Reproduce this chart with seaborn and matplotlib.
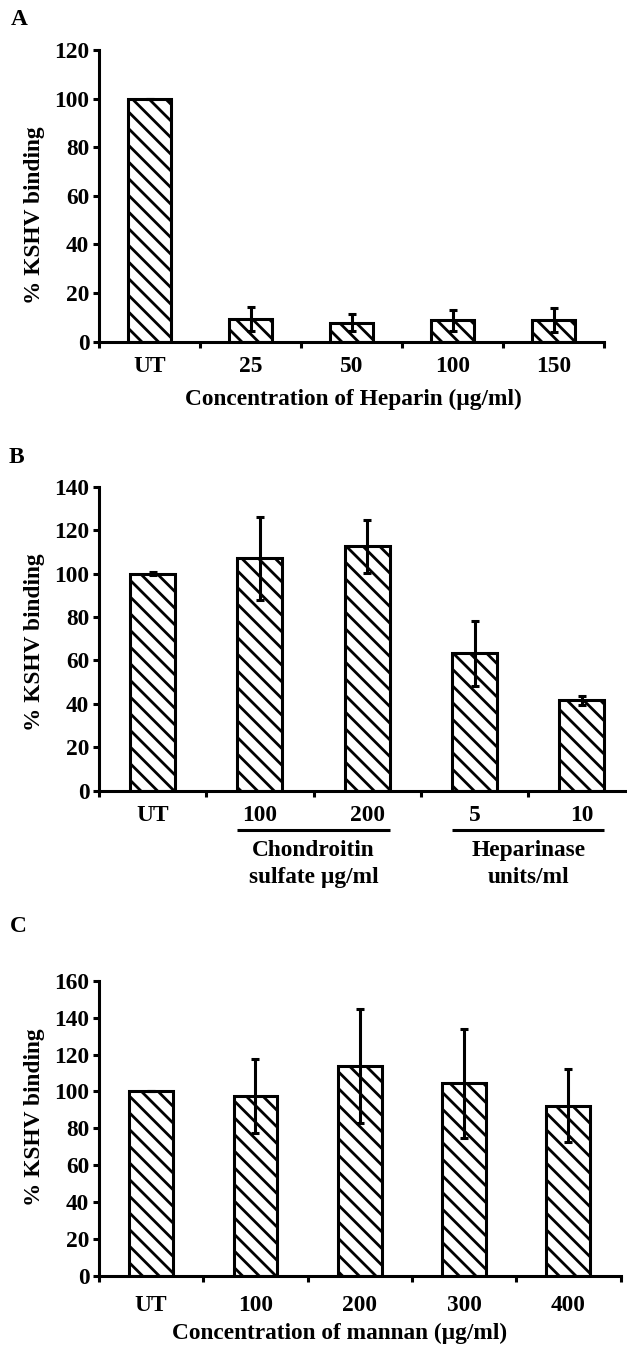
import numpy as np
import pandas as pd
import matplotlib
matplotlib.use("Agg")
import matplotlib.pyplot as plt
import seaborn as sns
from matplotlib.transforms import blended_transform_factory

# ---------------- data ----------------
y_label = "% KSHV binding"
panel_letters = ["A", "B", "C"]

a_categories = ["UT", "25", "50", "100", "150"]
a_values = [100, 9.3, 7.8, 8.8, 8.8]
a_errors = [0, 5.1, 3.5, 4.4, 5.0]
a_xlabel = "Concentration of Heparin (µg/ml)"

b_categories = ["UT", "100", "200", "5", "10"]
b_values = [100, 107, 112.5, 63.2, 41.6]
b_errors = [0.5, 19, 12.2, 15, 2]
b_group_labels = ["Chondroitin\nsulfate µg/ml", "Heparinase\nunits/ml"]
b_group_spans = [(1, 2), (3, 4)]

c_categories = ["UT", "100", "200", "300", "400"]
c_values = [100, 97.5, 113.8, 104.4, 92.3]
c_errors = [0, 19.9, 30.8, 29.4, 19.8]
c_xlabel = "Concentration of mannan (µg/ml)"

# ---------------- style ----------------
sns.set_style("ticks")
plt.rcParams["font.family"] = ["Liberation Serif", "DejaVu Serif"]
plt.rcParams["font.weight"] = "bold"
plt.rcParams["hatch.linewidth"] = 2.0
plt.rcParams["hatch.color"] = "black"
for key in ("text.color", "axes.labelcolor", "xtick.color", "ytick.color",
            "axes.edgecolor"):
    plt.rcParams[key] = "black"

FS = 16.8
LW = 2.2
W, H = 627, 1345

fig = plt.figure(figsize=(W / 100, H / 100), dpi=100)


def px_axes(left, right, top, bottom):
    return [left / W, 1 - bottom / H, (right - left) / W, (bottom - top) / H]


def draw(ax, cats, vals, errs, width, ymax, tick_pad):
    n = len(cats)
    df = pd.DataFrame({"cat": cats, "val": vals})
    sns.barplot(data=df, x="cat", y="val", order=cats, ax=ax, color="white",
                edgecolor="black", linewidth=LW, width=width, saturation=1,
                errorbar=None, hatch="\\\\")
    ax.errorbar(np.arange(n), vals, yerr=errs, fmt="none", ecolor="black",
                elinewidth=LW, capsize=3.2, capthick=LW, zorder=3)
    ax.set_xlim(-0.5, n - 0.5)
    ax.set_ylim(0, ymax)
    ax.set_yticks(np.arange(0, ymax + 1, 20))
    ax.set_xticks(np.arange(n))
    ax.set_xticklabels(cats, fontsize=FS, fontweight="bold")
    ax.set_xticks(np.arange(-0.5, n, 1.0), minor=True)
    ax.tick_params(axis="x", which="major", length=0, pad=tick_pad)
    ax.tick_params(axis="x", which="minor", length=4, width=LW, direction="out")
    ax.tick_params(axis="y", length=4, width=LW, direction="out", pad=3,
                   labelsize=FS)
    for lab in ax.get_yticklabels():
        lab.set_fontweight("bold")
    sns.despine(ax=ax)
    for s in ("left", "bottom"):
        ax.spines[s].set_linewidth(LW)
        ax.spines[s].set_color("black")
    ax.set_xlabel("")
    ax.set_ylabel(y_label, fontsize=FS, fontweight="bold")


# Panel A
axA = fig.add_axes(px_axes(99, 604, 50, 341.7))
draw(axA, a_categories, a_values, a_errors, 0.435, 120, 10)
axA.set_xlabel(a_xlabel, fontsize=FS, fontweight="bold")
axA.xaxis.set_label_coords(0.503, -0.161)
axA.yaxis.set_label_coords(-0.107, 0.434)

# Panel B
axB = fig.add_axes(px_axes(99, 635.5, 486.7, 790.7))
draw(axB, b_categories, b_values, b_errors, 0.42, 140, 10.5)
axB.yaxis.set_label_coords(-0.1007, 0.49)
trB = blended_transform_factory(axB.transData, axB.transAxes)
bw = 0.42
for label, (i0, i1) in zip(b_group_labels, b_group_spans):
    axB.plot([i0 - bw / 2, i1 + bw / 2], [-0.129, -0.129], transform=trB,
             clip_on=False, color="black", lw=LW, solid_capstyle="butt")
    axB.text((i0 + i1) / 2, (790.7 - 864) / 304, label, transform=trB,
             ha="center", va="center", fontsize=FS, fontweight="bold",
             linespacing=1.4, multialignment="center")

# Panel C
axC = fig.add_axes(px_axes(99, 620.5, 980.7, 1276))
draw(axC, c_categories, c_values, c_errors, 0.42, 160, 14)
axC.set_xlabel(c_xlabel, fontsize=FS, fontweight="bold")
axC.xaxis.set_label_coords(0.462, -0.159)
axC.yaxis.set_label_coords(-0.1035, 0.537)

# Panel letters
for letter, (x, y) in zip(panel_letters, [(19, 25), (16, 463), (18, 932)]):
    fig.text(x / W, 1 - y / H, letter, ha="center", va="baseline",
             fontsize=FS, fontweight="bold")

fig.savefig("out.png", dpi=100)
